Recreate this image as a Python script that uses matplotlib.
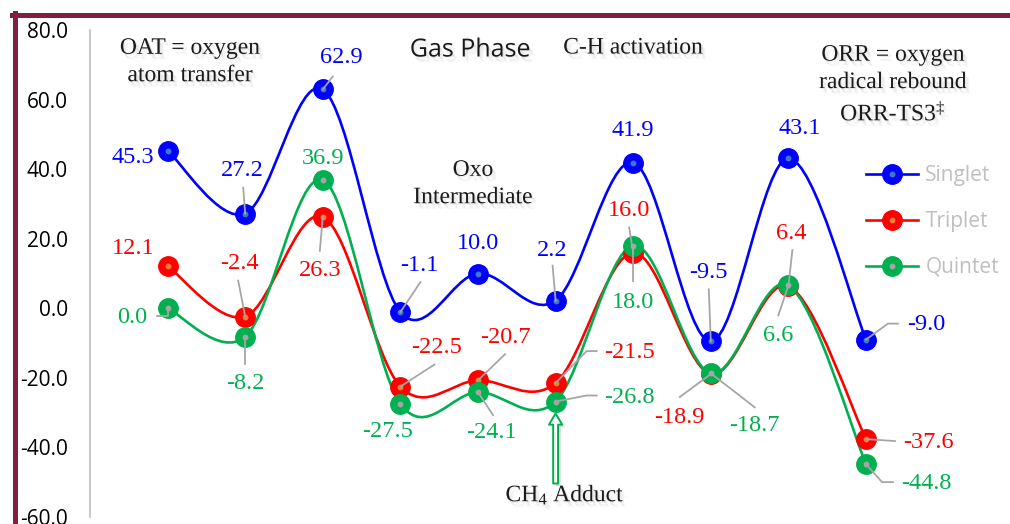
import numpy as np
import matplotlib.pyplot as plt
import matplotlib.patheffects as pe
from matplotlib.path import Path
from matplotlib.patches import PathPatch
from matplotlib.lines import Line2D
from matplotlib.transforms import ScaledTranslation
from matplotlib.legend_handler import HandlerTuple

# ------------------------------------
# CONFIG
# ------------------------------------
W, H, DPI = 1010, 524, 100
SERIF = "Liberation Serif"
SANS = "Open Sans"

plt.rcParams["font.family"] = [SERIF, "DejaVu Sans"]
plt.rcParams["mathtext.fontset"] = "custom"
plt.rcParams["mathtext.rm"] = SERIF
plt.rcParams["mathtext.it"] = SERIF
plt.rcParams["mathtext.bf"] = SERIF

# ------------------------------------
# DATA (kcal/mol)
# ------------------------------------
steps = list(range(10))
singlet = [45.3, 27.2, 62.9, -1.1, 10.0, 2.2, 41.9, -9.5, 43.1, -9.0]
triplet = [12.1, -2.4, 26.3, -22.5, -20.7, -21.5, 16.0, -18.9, 6.4, -37.6]
quintet = [0.0, -8.2, 36.9, -27.5, -24.1, -26.8, 18.0, -18.7, 6.6, -44.8]
series_names = ["Singlet", "Triplet", "Quintet"]
y_ticks = [-60, -40, -20, 0, 20, 40, 60, 80]

# styles
line_colors = ["#0000FF", "#FF0000", "#00B050"]
dot_colors = ["#3A7CC8", "#F08030", "#A5A5A5"]
text_colors = ["#0000FF", "#FF0000", "#00B050"]
LEADER = "#A6A6A6"
MAROON = "#80203F"

# label offsets in pixels from the point (dx, dy), leader vertices as offsets
singlet_labels = [
    (-35, -7, None),
    (-3, 43, [(0, 0), (-2, 26)]),
    (19, 32, [(0, 0), (10, 13)]),
    (19, 47, [(0, 0), (20, 30)]),
    (0, 30, None),
    (-3, 50, [(0, 0), (-3, 35)]),
    (0, 32, None),
    (-2, 69, [(0, 0), (-2, 52)]),
    (11, 30, None),
    (60, 15, [(0, 0), (22, 16), (32, 16)]),
]
triplet_labels = [
    (-34, 18, None),
    (-6, 53, [(0, 0), (-7, 36)]),
    (-3, -54, [(0, 0), (-3, -34)]),
    (36, 39, [(0, 0), (34, 22)]),
    (27, 43, [(0, 0), (27, 26)]),
    (74, 31, [(0, 0), (31, 32), (41, 32)]),
    (-4, 42, [(0, 0), (-4, 25)]),
    (-31, -43, [(0, 0), (-31, -23)]),
    (3, 53, [(0, 0), (4, 36)]),
    (62, -3, [(0, 0), (29, -2)]),
]
quintet_labels = [
    (-35, -9, [(0, 0), (0, -8), (-11, -8)]),
    (0, -47, [(0, 0), (0, -27)]),
    (0, 21, None),
    (-13, -28, None),
    (13, -40, [(0, 0), (15, -23)]),
    (74, 4, [(0, 0), (31, 6), (41, 6)]),
    (0, -57, [(0, 0), (0, -35)]),
    (44, -52, [(0, 0), (44, -34)]),
    (-10, -50, [(0, 0), (-10, -30)]),
    (60, -19, [(0, 0), (16, -18), (27, -18)]),
]


# ------------------------------------
# Smoothed line (Excel-like Catmull-Rom bezier)
# ------------------------------------
def smooth_path(xs, ys):
    pts = np.column_stack([xs, ys]).astype(float)
    n = len(pts)
    verts = [pts[0]]
    codes = [Path.MOVETO]
    for i in range(n - 1):
        p0 = pts[max(i - 1, 0)]
        p1 = pts[i]
        p2 = pts[i + 1]
        p3 = pts[min(i + 2, n - 1)]
        verts += [p1 + (p2 - p0) / 6, p2 - (p3 - p1) / 6, p2]
        codes += [Path.CURVE4] * 3
    return Path(verts, codes)


def shadow():
    return [
        pe.SimplePatchShadow(offset=(1, -1), shadow_rgbFace="0.4", alpha=0.10),
        pe.SimplePatchShadow(offset=(2, -3), shadow_rgbFace="0.4", alpha=0.08),
        pe.SimplePatchShadow(offset=(3, -4), shadow_rgbFace="0.4", alpha=0.06),
        pe.Normal(),
    ]


fig = plt.figure(figsize=(W / DPI, H / DPI), dpi=DPI)
ax = fig.add_axes([90 / W, 7 / H, 910 / W, 487 / H])
ax.set_xlim(-1, -1 + 910 / 77.6)
ax.set_ylim(-60, 80)

for s in ["top", "right", "bottom"]:
    ax.spines[s].set_visible(False)
ax.spines["left"].set_color("#BFBFBF")
ax.spines["left"].set_linewidth(1.2)
ax.set_xticks([])
ax.set_yticks(y_ticks)
ax.set_yticklabels([f"{v:.1f}" for v in y_ticks], fontfamily=SANS, fontsize=15)
ax.tick_params(axis="y", length=0, pad=16)

all_series = [singlet, triplet, quintet]
all_labels = [singlet_labels, triplet_labels, quintet_labels]

for k, vals in enumerate(all_series):
    patch = PathPatch(smooth_path(steps, vals), fill=False, edgecolor=line_colors[k],
                      lw=1.9, zorder=2 + k, clip_on=False)
    ax.add_patch(patch)

for k, vals in enumerate(all_series):
    ax.plot(steps, vals, ls="none", marker="o", ms=14, mfc=line_colors[k],
            mec=line_colors[k], zorder=5 + k, clip_on=False)
    ax.plot(steps, vals, ls="none", marker="o", ms=3.2, color=dot_colors[k],
            zorder=5.5 + k, clip_on=False)

# leader lines and data labels
for k, vals in enumerate(all_series):
    for x, v, (dx, dy, leader) in zip(steps, vals, all_labels[k]):
        if leader:
            trans = fig.dpi_scale_trans + ScaledTranslation(x, v, ax.transData)
            lx = [p[0] / DPI for p in leader]
            ly = [p[1] / DPI for p in leader]
            ax.add_artist(Line2D(lx, ly, transform=trans, color=LEADER, lw=1.3,
                                 zorder=9, clip_on=False))
        ax.annotate(f"{v:.1f}", (x, v), xytext=(dx, dy), textcoords="offset pixels",
                    ha="center", va="center", fontsize=17.5, color=text_colors[k],
                    zorder=10, annotation_clip=False)

# CH4 adduct arrow (attached to quintet point 5)
arrow_trans = fig.dpi_scale_trans + ScaledTranslation(steps[5], quintet[5], ax.transData)
ax.annotate("", xy=(0, -12 / DPI), xycoords=arrow_trans,
            xytext=(0, -82 / DPI), textcoords=arrow_trans,
            arrowprops=dict(arrowstyle="simple,head_length=0.8,head_width=0.95,tail_width=0.35",
                            fc="white", ec=line_colors[2], lw=1.4, mutation_scale=10,
                            shrinkA=0, shrinkB=0,
                            path_effects=[pe.SimplePatchShadow(offset=(2, -2), alpha=0.2),
                                          pe.Normal()]),
            annotation_clip=False)

# annotations
notes = [
    ("OAT = oxygen\natom transfer", 190, 62, SERIF, 17),
    ("Gas Phase", 470, 50, SANS, 18),
    ("C-H activation", 633, 48, SERIF, 17),
    ("ORR = oxygen\nradical rebound\nORR-TS3$^{‡}$", 893, 85, SERIF, 17),
    ("Oxo\nIntermediate", 473, 184, SERIF, 17),
    ("CH$_4$ Adduct", 565, 495, SERIF, 17),
]
for txt, px, py, fam, fs in notes:
    fig.text(px / W, 1 - py / H, txt, ha="center", va="center", multialignment="center",
             family=fam, fontsize=fs, color="#1A1A1A", linespacing=1.4,
             path_effects=shadow(), zorder=12)

# legend
handles = []
for k in range(3):
    big = Line2D([], [], color=line_colors[k], lw=1.9, marker="o", ms=14,
                 mfc=line_colors[k], mec=line_colors[k])
    dot = Line2D([], [], ls="none", marker="o", ms=3.2, color=dot_colors[k])
    handles.append((big, dot))
ax.legend(handles, series_names, handler_map={tuple: HandlerTuple(ndivide=1)},
          loc="upper left", bbox_to_anchor=(866 / W, 1 - 165 / H),
          bbox_transform=fig.transFigure, frameon=False,
          prop={"family": SANS, "size": 15}, labelcolor="#BFBFBF",
          handlelength=2.5, handletextpad=0.35, labelspacing=1.2,
          borderpad=0, borderaxespad=0)

# outer frame
fig.add_artist(Line2D([12 / W, 1], [1 - 15 / H] * 2, transform=fig.transFigure,
                      color=MAROON, lw=3.6))
fig.add_artist(Line2D([14.5 / W] * 2, [0, 1 - 13 / H], transform=fig.transFigure,
                      color=MAROON, lw=3.6))

fig.savefig("out.png", dpi=DPI)
